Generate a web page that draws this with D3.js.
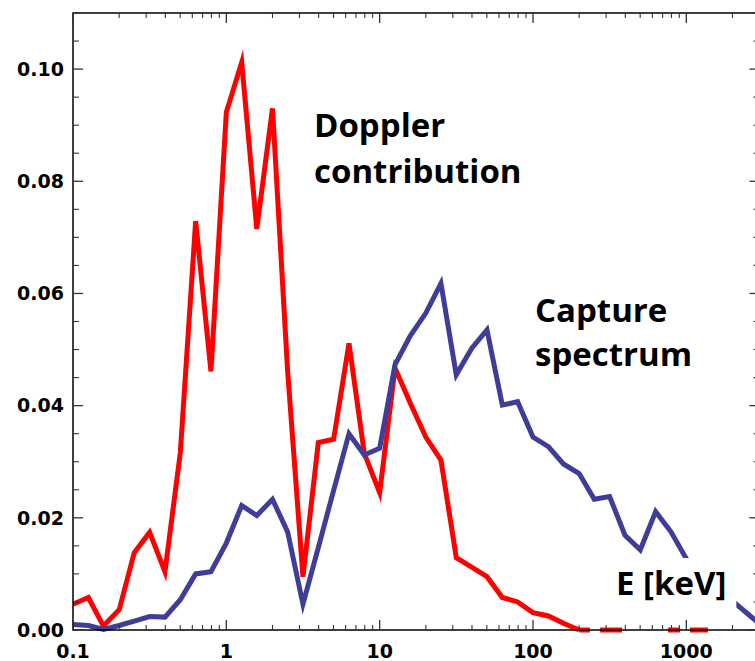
<!DOCTYPE html>
<html>
<head>
<meta charset="utf-8">
<script src="https://cdn.jsdelivr.net/npm/d3@7/dist/d3.min.js"></script>
<style>
  html, body { margin: 0; padding: 0; background: #fff; }
  svg { display: block; }
</style>
</head>
<body>
<svg id="chart" width="755" height="661"></svg>
<script>
// Energy grid (keV), ten points per decade
const energy = [0.1, 0.126, 0.158, 0.2, 0.251, 0.316, 0.398, 0.501, 0.631, 0.794,
  1, 1.26, 1.58, 2, 2.51, 3.16, 3.98, 5.01, 6.31, 7.94,
  10, 12.6, 15.8, 20, 25.1, 31.6, 39.8, 50.1, 63.1, 79.4,
  100, 126, 158, 200, 251, 316, 398, 501, 631, 794,
  1000, 1259, 1585, 1995, 2512, 3162];

// Doppler contribution (red), defined up to 200 keV
const doppler = [0.0046, 0.0058, 0.0007, 0.0036, 0.0138, 0.0174, 0.0104, 0.0316, 0.0729, 0.0461,
  0.0923, 0.1012, 0.0715, 0.0930, 0.0462, 0.0095, 0.0334, 0.0340, 0.0511, 0.0315,
  0.0245, 0.0467, 0.0405, 0.0344, 0.0303, 0.0129, 0.0112, 0.0095, 0.0058, 0.0050,
  0.0031, 0.0025, 0.0012, 0.0];

// Energy ranges (keV) where the Doppler contribution sits at zero
const dopplerZeroSpans = [[200, 235], [274, 381], [760, 910], [1057, 1384]];

// Capture spectrum (blue)
const capture = [0.0010, 0.0008, 0.0001, 0.0008, 0.0016, 0.0024, 0.0023, 0.0054, 0.0100, 0.0104,
  0.0155, 0.0222, 0.0204, 0.0233, 0.0175, 0.0046, 0.0147, 0.0249, 0.0350, 0.0312,
  0.0324, 0.0473, 0.0524, 0.0565, 0.0618, 0.0455, 0.0502, 0.0535, 0.0401, 0.0407,
  0.0344, 0.0327, 0.0296, 0.0279, 0.0233, 0.0238, 0.0169, 0.0143, 0.0211, 0.0175,
  0.0127, 0.0100, 0.0075, 0.0052, 0.0029, 0.0006];

const xTickValues = [0.1, 1, 10, 100, 1000];
const xTickLabels = ["0.1", "1", "10", "100", "1000"];
const yTickValues = [0.00, 0.02, 0.04, 0.06, 0.08, 0.10];
const yTickLabels = ["0.00", "0.02", "0.04", "0.06", "0.08", "0.10"];

const svg = d3.select("#chart");
const margin = { left: 73, top: 13, bottom: 31 };
const W = 755, H = 661;
const x = d3.scaleLog().domain([0.1, 3000]).range([margin.left, margin.left + 153.33 * Math.log10(30000)]);
const y = d3.scaleLinear().domain([0, 0.11]).range([H - margin.bottom, margin.top]);
const x0 = x.range()[0], x1 = x.range()[1];
const yb = y.range()[0], yt = y.range()[1];

svg.append("defs").append("clipPath").attr("id", "plotclip")
  .append("rect").attr("x", x0).attr("y", yt - 10).attr("width", x1 - x0).attr("height", yb - yt + 20);

const plot = svg.append("g").attr("clip-path", "url(#plotclip)");

const line = d3.line()
  .x(d => x(d[0]))
  .y(d => y(d[1]))
  .defined(d => d[1] != null);

const red = "#ff0000", blue = "#3e3e99";
const lw = 5;

plot.append("path")
  .attr("d", line(doppler.map((v, i) => [energy[i], v])))
  .attr("fill", "none").attr("stroke", red).attr("stroke-width", lw)
  .attr("stroke-linejoin", "miter").attr("stroke-miterlimit", 6);

dopplerZeroSpans.forEach(s => {
  plot.append("path")
    .attr("d", line([[s[0], 0], [s[1], 0]]))
    .attr("fill", "none").attr("stroke", red).attr("stroke-width", lw);
});

plot.append("path")
  .attr("d", line(capture.map((v, i) => [energy[i], v])))
  .attr("fill", "none").attr("stroke", blue).attr("stroke-width", lw)
  .attr("stroke-linejoin", "miter").attr("stroke-miterlimit", 6);

// Frame
const axes = svg.append("g");
axes.append("rect").attr("x", x0).attr("y", yt).attr("width", x1 - x0).attr("height", yb - yt)
  .attr("fill", "none").attr("stroke", "#000").attr("stroke-width", 1.5);

// Log ticks on bottom and top
const tickColor = "#333";
const decades = [0.1, 1, 10, 100, 1000];
const xMinor = [];
decades.forEach(d => { for (let k = 2; k <= 9; k++) { const v = d * k; if (v < 3000) xMinor.push(v); } });

[yb, yt].forEach((base, side) => {
  const dir = side === 0 ? -1 : 1;
  xTickValues.forEach(v => {
    axes.append("line").attr("x1", x(v)).attr("x2", x(v))
      .attr("y1", base).attr("y2", base + dir * 10)
      .attr("stroke", tickColor).attr("stroke-width", 1.3);
  });
  xMinor.forEach(v => {
    axes.append("line").attr("x1", x(v)).attr("x2", x(v))
      .attr("y1", base).attr("y2", base + dir * 5)
      .attr("stroke", tickColor).attr("stroke-width", 1.1);
  });
});

// Linear ticks on left and right
const yMinor = d3.range(0, 0.1101, 0.005);
[x0, x1].forEach((base, side) => {
  const dir = side === 0 ? 1 : -1;
  yMinor.forEach(v => {
    const major = Math.abs(Math.round(v / 0.02) * 0.02 - v) < 1e-6;
    axes.append("line").attr("x1", base).attr("x2", base + dir * (major ? 10 : 6))
      .attr("y1", y(v)).attr("y2", y(v))
      .attr("stroke", tickColor).attr("stroke-width", major ? 1.3 : 1.1);
  });
});

// Tick labels
const tickFont = "'DejaVu Sans', sans-serif";
yTickValues.forEach((v, i) => {
  svg.append("text").attr("x", x0 - 9).attr("y", y(v)).attr("dy", "0.36em")
    .attr("text-anchor", "end").attr("font-family", tickFont).attr("font-weight", "bold")
    .attr("font-size", 19).attr("fill", "#000").text(yTickLabels[i]);
});
xTickValues.forEach((v, i) => {
  svg.append("text").attr("x", x(v)).attr("y", yb + 28)
    .attr("text-anchor", "middle").attr("font-family", tickFont).attr("font-weight", "bold")
    .attr("font-size", 19).attr("fill", "#000").text(xTickLabels[i]);
});

// Annotations
const noteFont = "'Open Sans', sans-serif";
function note(lines, px, py, lh, boxed) {
  const g = svg.append("g");
  const t = g.append("text").attr("font-family", noteFont).attr("font-weight", "bold")
    .attr("font-size", 33).attr("fill", "#000");
  lines.forEach((s, i) => {
    t.append("tspan").attr("x", px).attr("y", py + i * lh).text(s);
  });
  if (boxed) {
    const b = t.node().getBBox();
    g.insert("rect", "text").attr("x", b.x - 10).attr("y", b.y - 2)
      .attr("width", b.width + 20).attr("height", b.height + 6).attr("fill", "#fff");
  }
}
note(["Doppler", "contribution"], 314, 137, 46, false);
note(["Capture", "spectrum"], 535, 322, 44, false);
note(["E [keV]"], 616, 595, 0, true);
</script>
</body>
</html>
